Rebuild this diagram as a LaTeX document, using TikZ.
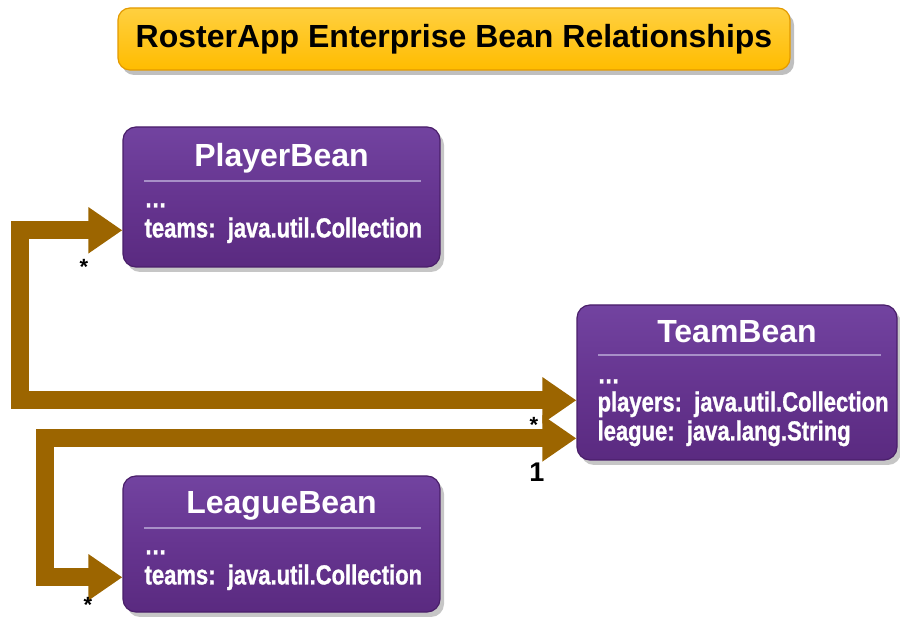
\documentclass[tikz,border=0pt]{standalone}
\usepackage{fontspec}
\setmainfont{Liberation Sans}
\newfontfamily\narrowsans{Liberation Sans}[FakeStretch=0.8, FakeBold=1]
\usepackage{tikz}
\usetikzlibrary{shapes,arrows.meta,positioning,shadows}

\definecolor{beantop}{HTML}{7243A0}
\definecolor{beanmid}{HTML}{663590}
\definecolor{beanbottom}{HTML}{5A2A80}
\definecolor{beanedge}{HTML}{4A1F6A}
\definecolor{beanrule}{HTML}{A890C8}
\definecolor{titletop}{HTML}{FFD040}
\definecolor{titlebottom}{HTML}{FFBC00}
\definecolor{titleedge}{HTML}{E39A00}
\definecolor{bandbrown}{HTML}{9C6500}

\begin{document}
\begin{tikzpicture}[
    x=1pt, y=-1pt,
    bean/.style={rectangle, rounded corners=13pt, draw=beanedge, line width=1.2pt,
        top color=beantop, bottom color=beanbottom, middle color=beanmid,
        drop shadow={shadow xshift=4pt, shadow yshift=-5pt, opacity=0.45}},
    titlebox/.style={rectangle, rounded corners=12pt, draw=titleedge, line width=1.2pt,
        top color=titletop, bottom color=titlebottom, minimum width=672pt, minimum height=62pt,
        font=\bfseries\fontsize{32}{38}\selectfont,
        drop shadow={shadow xshift=4pt, shadow yshift=-5pt, opacity=0.5}},
    beanname/.style={anchor=base, inner sep=0pt, text=white, font=\bfseries\fontsize{32}{36}\selectfont},
    field/.style={anchor=base west, inner sep=0pt, text=white, font=\narrowsans\bfseries\fontsize{27.5}{30}\selectfont},
    sepline/.style={draw=beanrule, line width=2pt},
    band/.style={draw=bandbrown, line width=18pt,
        {Triangle[width=44pt,length=34pt]}-{Triangle[width=44pt,length=34pt]}},
    mult/.style={inner sep=0pt, font=\bfseries\fontsize{22}{24}\selectfont}
]
\useasboundingbox (0,0) rectangle (900,617);

% title
\node[titlebox] (title) at (454,39) {RosterApp Enterprise Bean Relationships};

% beans
\node[bean, minimum width=317pt, minimum height=140pt] (player) at (281.5,197) {};
\node[bean, minimum width=320pt, minimum height=155pt] (team) at (737,382.5) {};
\node[bean, minimum width=317pt, minimum height=136pt] (league) at (281.5,544) {};

\node[beanname] (playername) at ([yshift=-40pt]player.north) {PlayerBean};
\draw[sepline] ([xshift=22pt,yshift=-55pt]player.north west) -- ([xshift=-20pt,yshift=-55pt]player.north east);
\node[field] (playerdots) at ([xshift=22pt,yshift=-81pt]player.north west) {…};
\node[field] (playerteams) at ([xshift=22pt,yshift=-111pt]player.north west) {teams:\ \ java.util.Collection};

\node[beanname] (teamname) at ([yshift=-38pt]team.north) {TeamBean};
\draw[sepline] ([xshift=22pt,yshift=-51pt]team.north west) -- ([xshift=-17pt,yshift=-51pt]team.north east);
\node[field] (teamdots) at ([xshift=21pt,yshift=-79pt]team.north west) {…};
\node[field] (teamplayers) at ([xshift=21pt,yshift=-107pt]team.north west) {players:\ \ java.util.Collection};
\node[field] (teamleague) at ([xshift=21pt,yshift=-136pt]team.north west) {league:\ \ java.lang.String};

\node[beanname] (leaguename) at ([yshift=-38pt]league.north) {LeagueBean};
\draw[sepline] ([xshift=22pt,yshift=-53pt]league.north west) -- ([xshift=-20pt,yshift=-53pt]league.north east);
\node[field] (leaguedots) at ([xshift=22pt,yshift=-79pt]league.north west) {…};
\node[field] (leagueteams) at ([xshift=22pt,yshift=-109pt]league.north west) {teams:\ \ java.util.Collection};

% relationships
\draw[band] (player.west |- playerteams) -- ++(-102,0) |- ([yshift=4pt]team.west |- teamplayers);
\draw[band] ([yshift=-5pt]team.west |- teamleague) -- ++(-531,0) |- (league.west |- leagueteams);

\node[mult] (playerstar) at (84,267) {*};
\node[mult] (teamstar) at (534,425) {*};
\node[mult, anchor=north] (leaguestar) at (88,597) {*};
\node[mult, font=\bfseries\fontsize{27}{30}\selectfont] (teamone) at (537,472) {1};
\end{tikzpicture}
\end{document}
